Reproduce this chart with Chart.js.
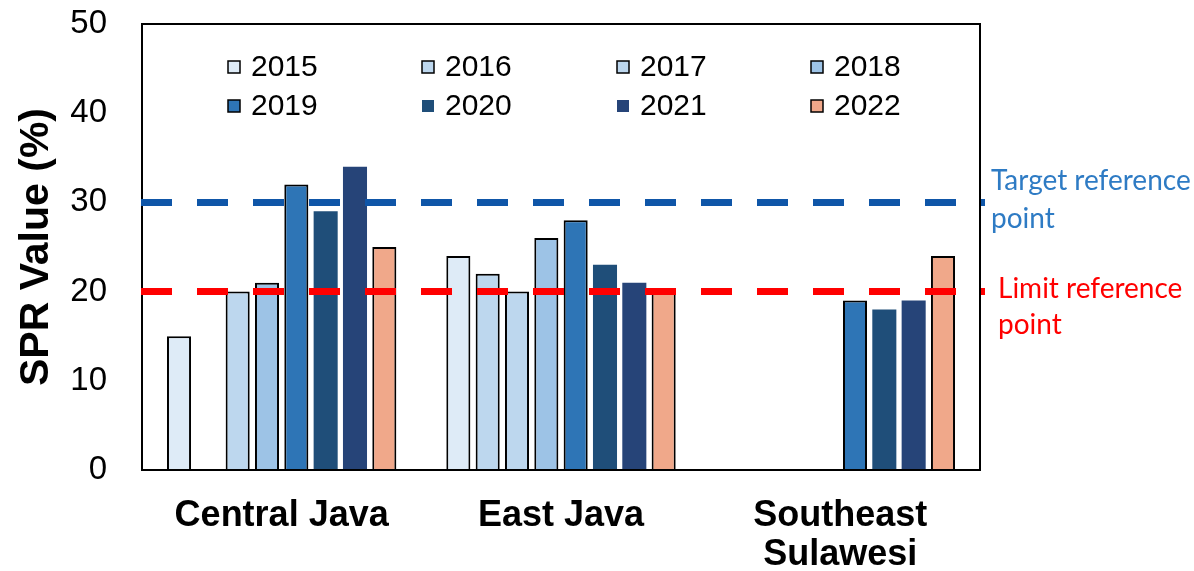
<!DOCTYPE html>
<html>
<head>
<meta charset="utf-8">
<script src="https://cdn.jsdelivr.net/npm/chart.js@4/dist/chart.umd.min.js"></script>
<style>
  html, body { margin: 0; padding: 0; background: #ffffff; }
  #wrap { width: 1194px; height: 571px; }
</style>
</head>
<body>
<div id="wrap"><canvas id="c" width="1194" height="571"></canvas></div>
<script>
// ---- data ----
const categories = ['Central Java', 'East Java', ['Southeast', 'Sulawesi']];
const years = ['2015', '2016', '2017', '2018', '2019', '2020', '2021', '2022'];
const v2015 = [15, 24, null];
const v2016 = [null, 22, null];
const v2017 = [20, 20, null];
const v2018 = [21, 26, null];
const v2019 = [32, 28, 19];
const v2020 = [29, 23, 18];
const v2021 = [34, 21, 19];
const v2022 = [25, 20, 24];
const targetRef = 30;
const limitRef = 20;
const targetLabel = ['Target reference', 'point'];
const limitLabel = ['Limit reference', 'point'];
const yTicks = [0, 10, 20, 30, 40, 50];
const yTitle = 'SPR Value (%)';

// ---- styles ----
const colors = ['#DEEBF7', '#BDD7EE', '#BDD7EE', '#9DC3E6', '#2E75B6', '#1F4E79', '#264478', '#F0A88A'];
const outlined = [true, true, true, true, true, false, false, true];
const seriesValues = [v2015, v2016, v2017, v2018, v2019, v2020, v2021, v2022];

const datasets = years.map((y, i) => ({
  label: y,
  data: seriesValues[i],
  backgroundColor: colors[i],
  borderColor: '#000000',
  borderWidth: outlined[i] ? 2 : 0,
  categoryPercentage: 0.84,
  barPercentage: 0.82
}));

const overlay = {
  id: 'overlay',
  afterDatasetsDraw(chart) {
    const ctx = chart.ctx;
    const a = chart.chartArea;
    const ys = chart.scales.y;
    ctx.save();
    // plot frame
    ctx.strokeStyle = '#000000';
    ctx.lineWidth = 2;
    ctx.strokeRect(a.left, a.top, a.right - a.left, a.bottom - a.top);

    // reference lines
    const drawRef = (val, color) => {
      const py = ys.getPixelForValue(val);
      ctx.beginPath();
      ctx.setLineDash([31, 25]);
      ctx.lineDashOffset = 0;
      ctx.strokeStyle = color;
      ctx.lineWidth = 7;
      ctx.moveTo(a.left - 1, py);
      ctx.lineTo(a.right + 5, py);
      ctx.stroke();
      ctx.setLineDash([]);
    };
    drawRef(targetRef, '#0F56A8');
    drawRef(limitRef, '#FF0000');

    // reference labels
    ctx.font = '28px Lato, "Open Sans", sans-serif';
    ctx.textBaseline = 'alphabetic';
    ctx.textAlign = 'left';
    ctx.fillStyle = '#2E7BC4';
    const ty = ys.getPixelForValue(targetRef);
    ctx.fillText(targetLabel[0], a.right + 11, ty - 12);
    ctx.fillText(targetLabel[1], a.right + 11, ty + 26);
    ctx.fillStyle = '#FF0000';
    const ly = ys.getPixelForValue(limitRef);
    ctx.fillText(limitLabel[0], a.right + 18, ly + 6);
    ctx.fillText(limitLabel[1], a.right + 18, ly + 42);

    // legend (inside plot)
    const cols = [228, 422, 617, 811];
    const rows = [67, 106];
    ctx.font = '30px "Liberation Sans", Arial, sans-serif';
    ctx.textBaseline = 'middle';
    chart.data.datasets.forEach((ds, i) => {
      const x = cols[i % 4];
      const y = rows[Math.floor(i / 4)];
      ctx.fillStyle = ds.backgroundColor;
      ctx.fillRect(x, y - 6, 12, 12);
      if (ds.borderWidth > 0) {
        ctx.strokeStyle = '#000000';
        ctx.lineWidth = 1.5;
        ctx.strokeRect(x, y - 6, 12, 12);
      }
      ctx.fillStyle = '#000000';
      ctx.fillText(ds.label, x + 23, y + 1);
    });
    ctx.restore();
  }
};

new Chart(document.getElementById('c'), {
  type: 'bar',
  data: { labels: categories, datasets: datasets },
  options: {
    responsive: false,
    animation: false,
    devicePixelRatio: 1,
    layout: { padding: { top: 24, right: 214, left: 0, bottom: 0 } },
    plugins: {
      legend: { display: false },
      tooltip: { enabled: false }
    },
    scales: {
      x: {
        grid: { display: false },
        border: { display: false },
        ticks: {
          color: '#000000',
          font: { family: '"Liberation Sans", Arial, sans-serif', size: 36, weight: 'bold', lineHeight: 1.1 },
          padding: 18,
          maxRotation: 0,
          autoSkip: false
        },
        afterFit(scale) { scale.height = 101; scale.paddingLeft = 0; scale.paddingRight = 0; }
      },
      y: {
        min: 0,
        max: 50,
        afterBuildTicks(scale) { scale.ticks = yTicks.map(v => ({ value: v })); },
        grid: { display: false },
        border: { display: false },
        ticks: {
          color: '#000000',
          font: { family: '"Liberation Sans", Arial, sans-serif', size: 33 },
          padding: 27
        },
        title: {
          display: true,
          text: yTitle,
          color: '#000000',
          font: { family: '"Liberation Sans", Arial, sans-serif', size: 41, weight: 'bold', lineHeight: 1.2 },
          padding: { top: 12, bottom: 0 }
        },
        afterFit(scale) { scale.width = 142; scale.paddingTop = 0; scale.paddingBottom = 0; }
      }
    }
  },
  plugins: [overlay]
});
</script>
</body>
</html>
